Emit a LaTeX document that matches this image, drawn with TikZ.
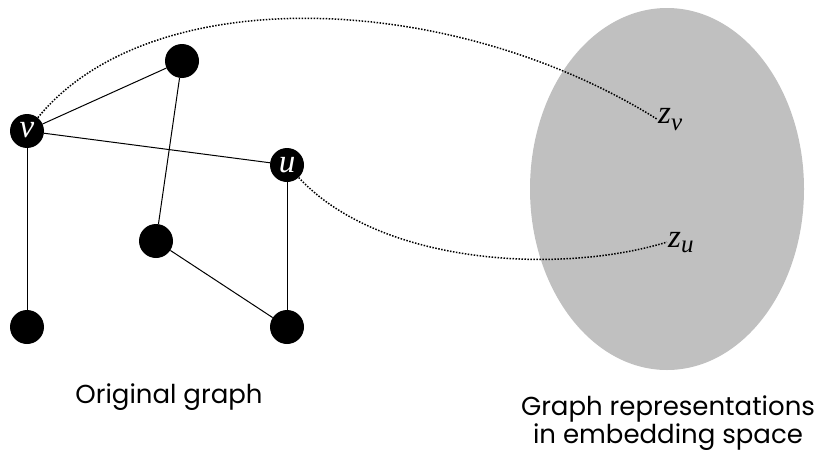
\documentclass[tikz,border=0pt]{standalone}
\usepackage{fontspec}
\setmainfont{Poppins}
\newfontfamily\lsi{Liberation Serif}[UprightFont={* Italic}]
\usetikzlibrary{shapes.geometric}
\definecolor{embgray}{HTML}{C0C0C0}
\tikzset{
  vtx/.style={circle, fill=black, minimum size=34pt, inner sep=0pt, text=white, font=\lsi\fontsize{33}{33}\selectfont},
  edge/.style={line width=1pt},
  link/.style={line width=1.5pt, dash pattern=on 1.5pt off 1.5pt},
  mlab/.style={inner sep=1pt, font=\lsi\fontsize{33}{33}\selectfont},
  caption/.style={font=\fontsize{26}{28}\selectfont, align=center, inner sep=0pt}
}
\begin{document}
\begin{tikzpicture}[x=1pt,y=-1pt]
\useasboundingbox (0,0) rectangle (819,455);
\node[ellipse, fill=embgray, minimum width=274pt, minimum height=362pt, inner sep=0pt] (emb) at (667,189) {};
\node[vtx] (v) at (27,131) {\raisebox{2pt}{v}};
\node[vtx] (t) at (182,61) {};
\node[vtx] (u) at (287,165) {\raisebox{1pt}{u}};
\node[vtx] (m) at (156,241) {};
\node[vtx] (bl) at (27,327) {};
\node[vtx] (br) at (287,327) {};
\draw[edge] (v) -- (t);
\draw[edge] (v) -- (u);
\draw[edge] (v) -- (bl);
\draw[edge] (t) -- (m);
\draw[edge] (m) -- (br);
\draw[edge] (u) -- (br);
\node[mlab, anchor=base west] (zv) at (657,123) {z\raisebox{-7pt}{\fontsize{25}{25}\selectfont v}};
\node[mlab, anchor=base west] (zu) at (667,247) {z\raisebox{-5pt}{\fontsize{25}{25}\selectfont u}};
\draw[link] (v) .. controls (150,-20) and (450,-10) .. (zv.west);
\draw[link] (u) .. controls (380,265) and (560,275) .. (zu.west);
\node[caption] (c1) at (169,397) {Original graph};
\node[caption] (c2) at (668,423) {Graph representations\\in embedding space};
\end{tikzpicture}
\end{document}
